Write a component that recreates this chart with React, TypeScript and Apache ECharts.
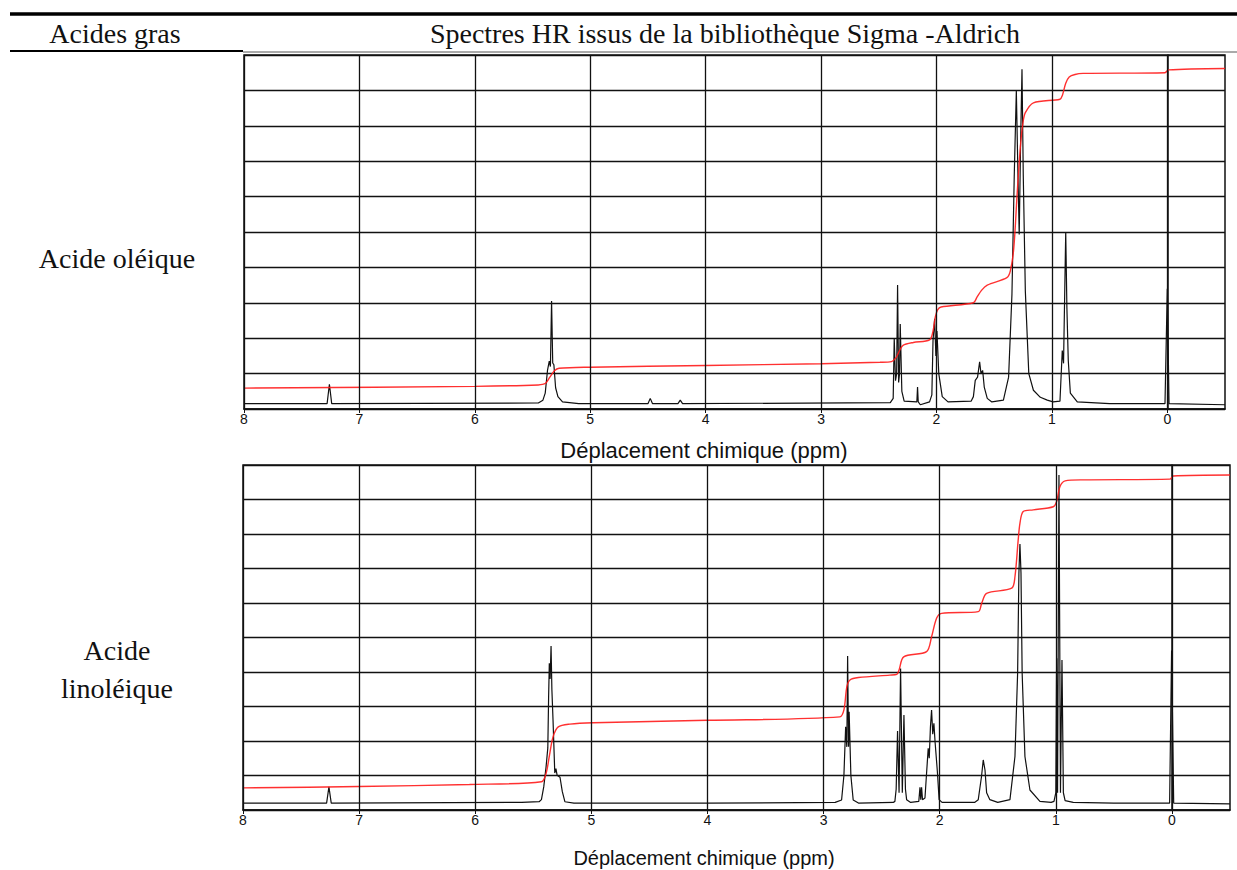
import React, { useEffect, useRef } from "react";
import * as echarts from "echarts";

// ---- data (ppm, intensity in grid units 0..10) ----
const xTicks = [8, 7, 6, 5, 4, 3, 2, 1, 0];
const axisTitle = "Déplacement chimique (ppm)";
const rowLabels = ["Acide oléique", "Acide\nlinoléique"];
const headerLeft = "Acides gras";
const headerRight = "Spectres HR issus de la bibliothèque Sigma -Aldrich";

const oleicSpectrum: [number, number][] = [
  [8.0, 0.15], [7.28, 0.15], [7.26, 0.7], [7.24, 0.15], [5.45, 0.17], [5.41, 0.25], [5.39, 0.45],
  [5.37, 1.1], [5.355, 1.35], [5.345, 1.2], [5.335, 3.05], [5.325, 1.3], [5.315, 1.25], [5.3, 0.6],
  [5.28, 0.35], [5.24, 0.2], [5.1, 0.15], [4.5, 0.15], [4.48, 0.3], [4.46, 0.15], [4.24, 0.15],
  [4.22, 0.25], [4.2, 0.15], [2.4, 0.18], [2.375, 0.3], [2.366, 2.0], [2.355, 0.8], [2.345, 1.0],
  [2.337, 3.5], [2.328, 0.75], [2.32, 1.0], [2.314, 2.4], [2.3, 0.5], [2.28, 0.22], [2.17, 0.2],
  [2.164, 0.62], [2.158, 0.2], [2.14, 0.12], [2.06, 0.2], [2.04, 0.4], [2.03, 1.93], [2.016, 2.55],
  [2.005, 1.5], [1.996, 2.2], [1.98, 1.0], [1.95, 0.35], [1.9, 0.2], [1.7, 0.22], [1.68, 0.35],
  [1.664, 0.81], [1.644, 0.9], [1.626, 1.33], [1.614, 1.0], [1.6, 1.09], [1.586, 0.62], [1.56, 0.3],
  [1.52, 0.2], [1.42, 0.25], [1.375, 0.9], [1.346, 3.24], [1.326, 6.6], [1.308, 9.0], [1.294, 6.6],
  [1.283, 4.93], [1.271, 7.53], [1.259, 9.6], [1.248, 6.6], [1.23, 3.33], [1.2, 1.0], [1.16, 0.53],
  [1.1, 0.33], [1.04, 0.25], [0.99, 0.2], [0.93, 0.22], [0.91, 1.65], [0.899, 1.29], [0.88, 5.0],
  [0.87, 2.87], [0.858, 1.37], [0.84, 0.45], [0.78, 0.2], [0.5, 0.15], [0.02, 0.15], [0.0, 3.4],
  [-0.015, 0.15], [-0.5, 0.12],
];

const oleicIntegral: [number, number][] = [
  [8.0, 0.59], [6.0, 0.64], [5.45, 0.68], [5.39, 0.72], [5.35, 0.9], [5.31, 1.08], [5.27, 1.15],
  [5.0, 1.18], [4.0, 1.23], [3.0, 1.28], [2.49, 1.32], [2.39, 1.34], [2.35, 1.45], [2.32, 1.65],
  [2.29, 1.8], [2.2, 1.88], [2.06, 1.95], [2.03, 2.2], [2.01, 2.6], [1.99, 2.8], [1.96, 2.88],
  [1.68, 3.0], [1.65, 3.15], [1.61, 3.35], [1.56, 3.5], [1.39, 3.71], [1.36, 3.9], [1.33, 4.55],
  [1.3, 6.13], [1.27, 7.53], [1.25, 8.1], [1.23, 8.37], [1.16, 8.65], [0.93, 8.75], [0.91, 8.85],
  [0.88, 9.2], [0.85, 9.38], [0.8, 9.45], [0.73, 9.48], [0.02, 9.5], [-0.01, 9.58], [-0.5, 9.62],
];

const linoleicSpectrum: [number, number][] = [
  [8.0, 0.2], [7.28, 0.2], [7.26, 0.67], [7.24, 0.2], [5.6, 0.22], [5.45, 0.24], [5.43, 0.3],
  [5.41, 0.67], [5.39, 1.25], [5.375, 1.8], [5.368, 3.28], [5.362, 4.25], [5.355, 3.8], [5.347, 4.75],
  [5.34, 3.5], [5.33, 2.6], [5.315, 1.07], [5.305, 1.2], [5.295, 1.01], [5.27, 0.95], [5.25, 0.53],
  [5.228, 0.24], [5.15, 0.2], [4.0, 0.2], [2.9, 0.22], [2.845, 0.29], [2.825, 1.0], [2.81, 2.41],
  [2.8, 1.83], [2.793, 4.46], [2.785, 1.83], [2.78, 2.85], [2.765, 1.0], [2.745, 0.29], [2.7, 0.2],
  [2.4, 0.22], [2.386, 0.25], [2.375, 0.6], [2.363, 2.29], [2.35, 0.5], [2.337, 4.1], [2.322, 0.5],
  [2.308, 2.75], [2.295, 0.6], [2.285, 0.3], [2.25, 0.22], [2.18, 0.25], [2.17, 0.66], [2.163, 0.3],
  [2.156, 0.66], [2.148, 0.3], [2.127, 0.35], [2.113, 1.07], [2.099, 1.79], [2.09, 1.5], [2.08, 2.4],
  [2.07, 2.9], [2.06, 2.2], [2.05, 2.51], [2.04, 1.98], [2.02, 1.11], [2.005, 0.3], [1.98, 0.22],
  [1.7, 0.22], [1.668, 0.3], [1.64, 0.97], [1.625, 1.45], [1.61, 1.16], [1.596, 0.5], [1.568, 0.3],
  [1.5, 0.22], [1.395, 0.3], [1.352, 1.55], [1.329, 3.97], [1.318, 6.87], [1.309, 7.71], [1.3, 6.87],
  [1.29, 3.97], [1.266, 1.55], [1.223, 0.58], [1.137, 0.25], [1.04, 0.22], [1.016, 0.25], [1.0, 0.5],
  [0.993, 4.4], [0.985, 0.5], [0.973, 9.71], [0.96, 0.5], [0.947, 4.35], [0.935, 0.5], [0.92, 0.27],
  [0.85, 0.22], [0.5, 0.2], [0.02, 0.2], [0.003, 4.62], [-0.015, 0.2], [-0.5, 0.18],
];

const linoleicIntegral: [number, number][] = [
  [8.0, 0.64], [7.0, 0.68], [6.05, 0.74], [5.43, 0.82], [5.39, 1.06], [5.36, 1.6], [5.33, 2.12],
  [5.285, 2.41], [5.185, 2.49], [4.985, 2.53], [4.0, 2.6], [2.86, 2.7], [2.825, 2.9], [2.8, 3.57],
  [2.773, 3.77], [2.7, 3.84], [2.43, 3.91], [2.37, 3.93], [2.35, 4.06], [2.31, 4.44], [2.113, 4.59],
  [2.07, 5.02], [2.027, 5.56], [1.984, 5.7], [1.668, 5.75], [1.639, 5.99], [1.596, 6.28], [1.38, 6.43],
  [1.352, 6.76], [1.324, 7.83], [1.309, 8.31], [1.281, 8.65], [1.195, 8.7], [1.022, 8.79],
  [0.993, 8.94], [0.965, 9.37], [0.92, 9.54], [0.766, 9.57], [0.017, 9.59], [-0.011, 9.68],
  [-0.5, 9.71],
];

const W = 1237;
const H = 870;

function xAxisFor(gridIndex: number) {
  return {
    gridIndex,
    type: "value",
    inverse: true,
    min: -0.5,
    max: 8,
    axisLine: { show: true, lineStyle: { color: "#111", width: 1.5 } },
    axisTick: { show: true, length: 4, customValues: xTicks, lineStyle: { color: "#111", width: 1 } },
    axisLabel: {
      color: "#111",
      fontSize: 14,
      fontFamily: "Liberation Sans, Arial, sans-serif",
      margin: 3,
      customValues: xTicks,
      showMinLabel: true,
      showMaxLabel: true,
      hideOverlap: false,
    },
    splitLine: { show: false },
  };
}

function yAxisFor(gridIndex: number) {
  return {
    gridIndex,
    type: "value",
    min: 0,
    max: 10,
    interval: 1,
    axisLine: { show: true, lineStyle: { color: "#111", width: 1.5 } },
    axisTick: { show: false },
    axisLabel: { show: false },
    splitLine: { show: true, lineStyle: { color: "#111", width: 1.3 } },
  };
}

function verticalGrid() {
  return {
    silent: true,
    symbol: "none",
    label: { show: false },
    lineStyle: { color: "#111", width: 1.3, type: "solid" },
    data: xTicks.map((v) => ({ xAxis: v })),
  };
}

const serif = "Liberation Serif, Times New Roman, serif";
const sans = "Liberation Sans, Arial, sans-serif";

export default function App() {
  const ref = useRef<HTMLDivElement>(null);
  useEffect(() => {
    if (!ref.current) return;
    const chart = echarts.init(ref.current, null, { renderer: "svg" });
    const labelStyle = { font: `28px ${serif}`, fill: "#111", textAlign: "center", textVerticalAlign: "middle" };
    chart.setOption({
      animation: false,
      backgroundColor: "#fff",
      grid: [
        { left: 244, right: W - 1225, top: 55, height: 354, show: true, borderColor: "#111", borderWidth: 1.5, containLabel: false },
        { left: 243, right: W - 1230, top: 465, height: 345, show: true, borderColor: "#111", borderWidth: 1.5, containLabel: false },
      ],
      xAxis: [xAxisFor(0), xAxisFor(1)],
      yAxis: [yAxisFor(0), yAxisFor(1)],
      series: [
        { type: "line", xAxisIndex: 0, yAxisIndex: 0, data: oleicSpectrum, showSymbol: false, lineStyle: { color: "#111", width: 1.2 }, z: 3, markLine: verticalGrid() },
        { type: "line", xAxisIndex: 0, yAxisIndex: 0, data: oleicIntegral, showSymbol: false, smooth: 0.3, lineStyle: { color: "#ff1a1a", width: 1.4, opacity: 0.9 }, z: 4 },
        { type: "line", xAxisIndex: 1, yAxisIndex: 1, data: linoleicSpectrum, showSymbol: false, lineStyle: { color: "#111", width: 1.2 }, z: 3, markLine: verticalGrid() },
        { type: "line", xAxisIndex: 1, yAxisIndex: 1, data: linoleicIntegral, showSymbol: false, smooth: 0.3, lineStyle: { color: "#ff1a1a", width: 1.4, opacity: 0.9 }, z: 4 },
      ],
      graphic: [
        { type: "line", shape: { x1: 10, y1: 14, x2: W, y2: 14 }, style: { stroke: "#000", lineWidth: 3.5 } },
        { type: "line", shape: { x1: 10, y1: 51, x2: 243, y2: 51 }, style: { stroke: "#000", lineWidth: 2 } },
        { type: "line", shape: { x1: 243, y1: 52, x2: W, y2: 52 }, style: { stroke: "#555", lineWidth: 1 } },
        { type: "text", x: 115, y: 33, style: { ...labelStyle, text: headerLeft } },
        { type: "text", x: 725, y: 33, style: { ...labelStyle, text: headerRight } },
        { type: "text", x: 117, y: 258, style: { ...labelStyle, text: rowLabels[0] } },
        { type: "text", x: 117, y: 669, style: { ...labelStyle, text: rowLabels[1], lineHeight: 38 } },
        { type: "text", x: 704, y: 450, style: { font: `22px ${sans}`, fill: "#111", text: axisTitle, textAlign: "center", textVerticalAlign: "middle" } },
        { type: "text", x: 704, y: 858, style: { font: `20px ${sans}`, fill: "#111", text: axisTitle, textAlign: "center", textVerticalAlign: "middle" } },
      ],
    });
    return () => chart.dispose();
  }, []);
  return <div ref={ref} style={{ position: "absolute", left: 0, top: 0, width: W, height: H }} />;
}
